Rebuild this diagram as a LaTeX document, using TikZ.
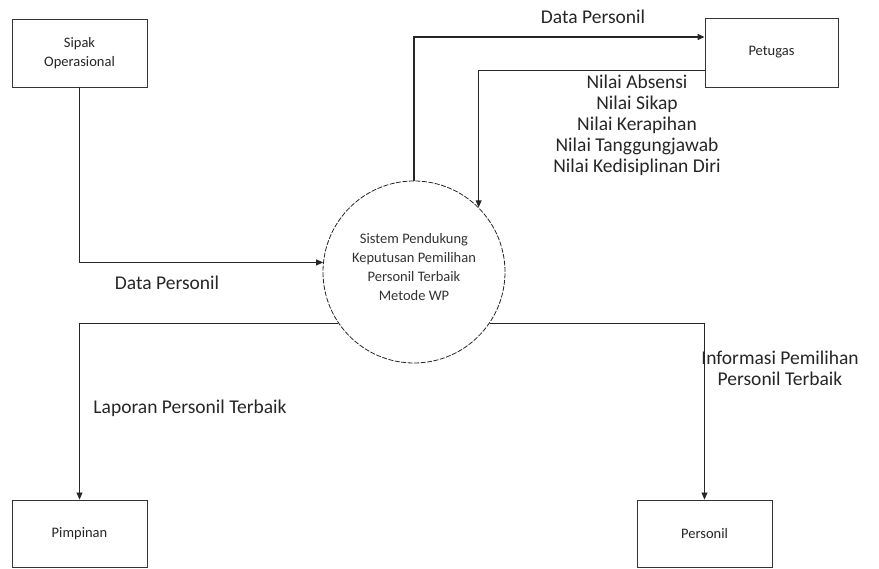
\documentclass[tikz,border=0pt]{standalone}
\usepackage{fontspec}
\setmainfont{Carlito}
\usetikzlibrary{arrows.meta,calc}
\begin{document}
\begin{tikzpicture}[x=1pt,y=-1pt,
  entity/.style={draw=black!80,line width=0.9pt,fill=white,minimum width=135pt,minimum height=68pt,
    align=center,font=\fontsize{14.5}{19}\selectfont,text=black!85,inner sep=0pt},
  process/.style={circle,draw=black!85,dashed,dash pattern=on 5pt off 1.5pt,line width=0.8pt,
    minimum size=182pt,inner sep=0pt},
  proctext/.style={align=center,font=\fontsize{14.5}{19}\selectfont,text=black!80,inner sep=0pt},
  flow/.style={draw=black!85,line width=0.8pt,-{Triangle[length=7pt,width=6pt]}},
  lbl/.style={align=center,font=\fontsize{19.5}{21}\selectfont,text=black!85,inner sep=0pt}]
\useasboundingbox (0,0) rectangle (879,569);
\node[entity] (sipak) at (79.5,53) {Sipak\\Operasional};
\node[entity,minimum width=133pt,minimum height=69pt] (petugas) at (771.5,52.5) {Petugas};
\node[entity,minimum height=67pt] (pimpinan) at (79.5,533.5) {Pimpinan};
\node[entity,minimum height=67pt] (personil) at (704.5,533.5) {Personil};
\node[process] (proc) at (414,272) {};
\node[proctext] (proct) at (414,267) {Sistem Pendukung\\Keputusan Pemilihan\\Personil Terbaik\\Metode WP};
% flows
\draw[flow] (sipak.south) |- (proc.174);
\draw[flow,line width=1.3pt] (proc.north) |- ([yshift=15.5pt]petugas.west);
\draw[flow] ([yshift=-17.5pt]petugas.west) -| (proc.45);
\draw[flow] (proc.214) -| (pimpinan.north);
\draw[flow] (proc.326) -| (personil.north);
% labels
\node[lbl] (l1) at (167,283) {Data Personil};
\node[lbl] (l2) at (593,17) {Data Personil};
\node[lbl] (l3) at (637,125) {Nilai Absensi\\Nilai Sikap\\Nilai Kerapihan\\Nilai Tanggungjawab\\Nilai Kedisiplinan Diri};
\node[lbl] (l4) at (190,408) {Laporan Personil Terbaik};
\node[lbl] (l5) at (780,368) {Informasi Pemilihan\\Personil Terbaik};
\end{tikzpicture}
\end{document}
